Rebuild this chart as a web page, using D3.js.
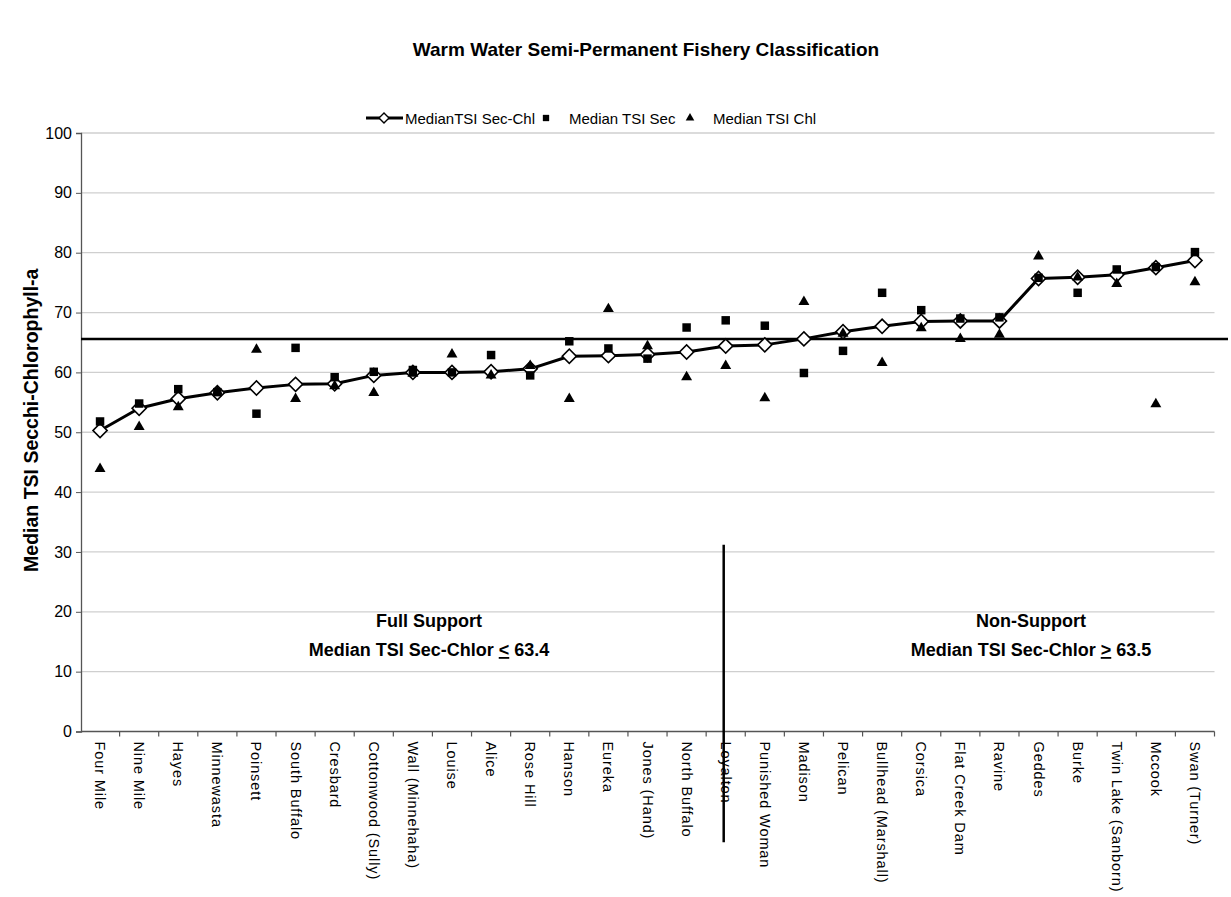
<!DOCTYPE html>
<html>
<head>
<meta charset="utf-8">
<script src="https://cdn.jsdelivr.net/npm/d3@7"></script>
<style>
  html, body { margin: 0; padding: 0; background: #fff; }
  svg { display: block; font-family: "Liberation Sans", Arial, sans-serif; }
</style>
</head>
<body>
<svg id="chart" width="1231" height="897"></svg>
<script>
const lakes = ["Four Mile","Nine Mile","Hayes","Minnewasta","Poinsett","South Buffalo","Cresbard","Cottonwood (Sully)","Wall (Minnehaha)","Louise","Alice","Rose Hill","Hanson","Eureka","Jones (Hand)","North Buffalo","Loyalton","Punished Woman","Madison","Pelican","Bullhead (Marshall)","Corsica","Flat Creek Dam","Ravine","Geddes","Burke","Twin Lake (Sanborn)","Mccook","Swan (Turner)"];
const medianSecChl = [50.3,54.0,55.6,56.6,57.4,58.0,58.1,59.5,60.0,60.0,60.1,60.6,62.7,62.8,63.0,63.4,64.4,64.6,65.6,66.8,67.7,68.5,68.6,68.6,75.7,75.9,76.3,77.5,78.7];
const medianSec = [51.8,54.8,57.2,56.7,53.1,64.1,59.2,60.1,60.4,60.0,62.9,59.5,65.2,64.0,62.3,67.5,68.7,67.8,59.9,63.6,73.3,70.4,69.0,69.2,75.8,73.3,77.2,77.6,80.1];
const medianChl = [43.9,50.9,54.2,56.8,63.8,55.6,57.7,56.6,59.8,63.0,59.5,61.1,55.6,70.6,64.4,59.2,61.1,55.7,71.8,66.5,61.6,67.4,65.6,66.3,79.4,75.9,74.8,54.7,75.1];
const yTicks = [0,10,20,30,40,50,60,70,80,90,100];
const threshold = [65.6];
const dividerLake = ["Loyalton"];
const dividerRange = [31.2, -18.5];
const titleText = "Warm Water Semi-Permanent Fishery Classification";
const yTitle = "Median TSI Secchi-Chlorophyll-a";
const legendLabels = ["MedianTSI Sec-Chl","Median TSI Sec","Median TSI Chl"];
const zoneLabels = [
  {head:"Full Support", body:"Median TSI Sec-Chlor ", sym:"<", val:" 63.4", cxPos:429},
  {head:"Non-Support", body:"Median TSI Sec-Chlor ", sym:">", val:" 63.5", cxPos:1031}
];

const svg = d3.select("#chart");
const pL = 81, pR = 1214.5, pT = 133, pB = 731.5;
const x = d3.scaleBand().domain(lakes).range([pL - 0.5, pR]).padding(0);
const y = d3.scaleLinear().domain([0,100]).range([pB, pT]);
const bw = x.bandwidth();
const cx = d => x(d) + bw/2;

// title
svg.append("text").attr("x", 646).attr("y", 56).attr("text-anchor","middle")
  .attr("font-size", 19).attr("font-weight","bold").text(titleText);

// gridlines
svg.append("g").selectAll("line").data(yTicks.filter(d=>d>0)).join("line")
  .attr("x1", pL).attr("x2", pR).attr("y1", d=>y(d)).attr("y2", d=>y(d))
  .attr("stroke", "#cfcfcf").attr("stroke-width", 1.3);

// y axis
const yAxis = svg.append("g").attr("transform", `translate(${pL},0)`)
  .call(d3.axisLeft(y).tickValues(yTicks).tickSize(5).tickPadding(4));
yAxis.select(".domain").attr("stroke", "#555").attr("stroke-width", 1.3);
yAxis.selectAll(".tick line").attr("stroke", "#555");
yAxis.selectAll("text").attr("font-size", 16).attr("fill","#000")
  .attr("font-family","Liberation Sans, Arial, sans-serif");

// x axis
const xg = svg.append("g");
xg.append("line").attr("x1", pL).attr("x2", pR).attr("y1", pB).attr("y2", pB)
  .attr("stroke", "#555").attr("stroke-width", 1.3);
const edges = lakes.map(d => x(d)).concat([x(lakes[lakes.length-1]) + bw]);
xg.selectAll("line.tk").data(edges.slice(1)).join("line").attr("class","tk")
  .attr("x1", d=>d).attr("x2", d=>d).attr("y1", pB).attr("y2", pB+5)
  .attr("stroke","#555").attr("stroke-width",1.2);
xg.selectAll("text").data(lakes).join("text")
  .attr("transform", d => `translate(${cx(d)-5},${pB+10}) rotate(90)`)
  .attr("font-size", 14.5).attr("letter-spacing", 0.9).attr("text-anchor","start")
  .text(d=>d);

// y title
svg.append("text").attr("transform", `translate(38,${(pT+pB)/2 - 12}) rotate(-90)`)
  .attr("text-anchor","middle").attr("font-size",19.5).attr("font-weight","bold").text(yTitle);

// threshold line
svg.append("line").attr("x1", pL).attr("x2", 1228)
  .attr("y1", y(threshold[0])).attr("y2", y(threshold[0]))
  .attr("stroke","#000").attr("stroke-width",2.5);

// divider vertical
svg.append("line").attr("x1", cx(dividerLake[0])-2).attr("x2", cx(dividerLake[0])-2)
  .attr("y1", y(dividerRange[0])).attr("y2", y(dividerRange[1]))
  .attr("stroke","#000").attr("stroke-width",2.5);

// zone labels
zoneLabels.forEach(z => {
  svg.append("text").attr("x", z.cxPos).attr("y", 627).attr("text-anchor","middle")
    .attr("font-size",18).attr("font-weight","bold").text(z.head);
  const t = svg.append("text").attr("x", z.cxPos).attr("y", 656).attr("text-anchor","middle")
    .attr("font-size",18).attr("font-weight","bold");
  t.append("tspan").text(z.body);
  t.append("tspan").attr("text-decoration","underline").text(z.sym);
  t.append("tspan").text(z.val);
});

// line series
const line = d3.line().x((d,i)=>cx(lakes[i])).y(d=>y(d));
svg.append("path").datum(medianSecChl).attr("d", line)
  .attr("fill","none").attr("stroke","#000").attr("stroke-width",3).attr("stroke-linejoin","round");
svg.append("g").selectAll("path").data(medianSecChl).join("path")
  .attr("transform",(d,i)=>`translate(${cx(lakes[i])},${y(d)}) rotate(45)`)
  .attr("d", d3.symbol().type(d3.symbolSquare).size(100))
  .attr("fill","#fff").attr("stroke","#000").attr("stroke-width",1.6);

// squares
svg.append("g").selectAll("path").data(medianSec).join("path")
  .attr("transform",(d,i)=>`translate(${cx(lakes[i])},${y(d)})`)
  .attr("d", d3.symbol().type(d3.symbolSquare).size(72)).attr("fill","#000");

// triangles
svg.append("g").selectAll("path").data(medianChl).join("path")
  .attr("transform",(d,i)=>`translate(${cx(lakes[i])},${y(d)})`)
  .attr("d", d3.symbol().type(d3.symbolTriangle).size(52)).attr("fill","#000");

// legend
const lg = svg.append("g").attr("transform","translate(0,118)");
lg.append("line").attr("x1",366).attr("x2",403).attr("y1",0).attr("y2",0).attr("stroke","#000").attr("stroke-width",3);
lg.append("path").attr("transform","translate(384,0) rotate(45)")
  .attr("d", d3.symbol().type(d3.symbolSquare).size(50)).attr("fill","#fff").attr("stroke","#000").attr("stroke-width",1.4);
lg.append("text").attr("x",405).attr("y",5.5).attr("font-size",15).text(legendLabels[0]);
lg.append("path").attr("transform","translate(546,0)").attr("d", d3.symbol().type(d3.symbolSquare).size(40)).attr("fill","#000");
lg.append("text").attr("x",569).attr("y",5.5).attr("font-size",15).text(legendLabels[1]);
lg.append("path").attr("transform","translate(690,0)").attr("d", d3.symbol().type(d3.symbolTriangle).size(32)).attr("fill","#000");
lg.append("text").attr("x",713).attr("y",5.5).attr("font-size",15).text(legendLabels[2]);
</script>
</body>
</html>
